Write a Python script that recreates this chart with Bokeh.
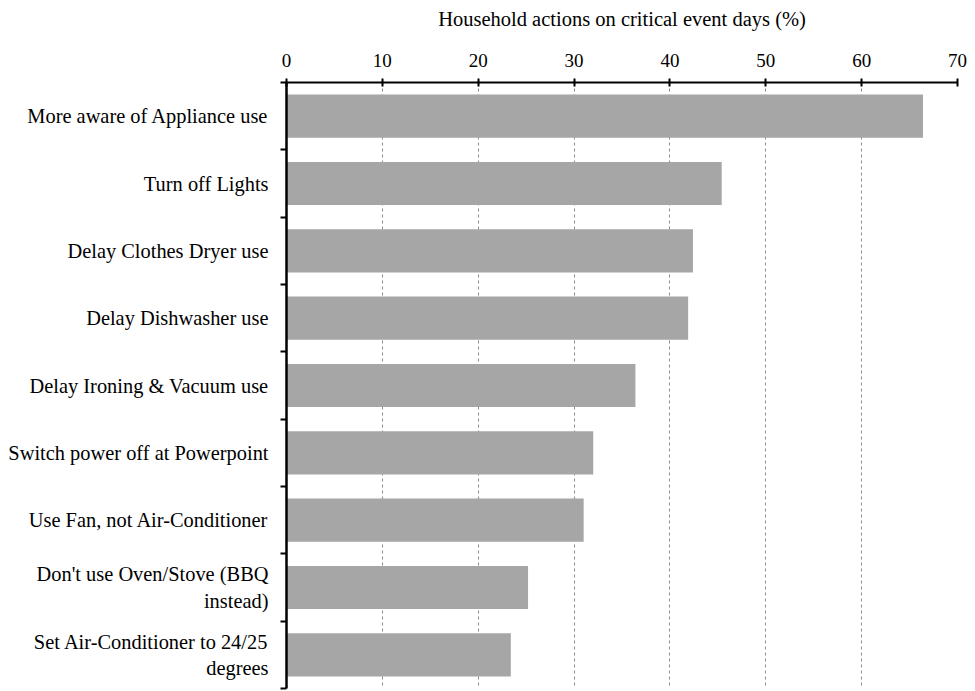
from bokeh.plotting import figure
from bokeh.models import Range1d, FixedTicker
from bokeh.embed import file_html
from bokeh.resources import INLINE

categories = [
    "More aware of Appliance use",
    "Turn off Lights",
    "Delay Clothes Dryer use",
    "Delay Dishwasher use",
    "Delay Ironing & Vacuum use",
    "Switch power off at Powerpoint",
    "Use Fan, not Air-Conditioner",
    "Don't use Oven/Stove (BBQ\ninstead)",
    "Set Air-Conditioner to 24/25\ndegrees",
]
values = [66.4, 45.4, 42.4, 41.9, 36.4, 32.0, 31.0, 25.2, 23.4]
x_ticks = [0, 10, 20, 30, 40, 50, 60, 70]
x_title = "Household actions on critical event days (%)"

n = len(categories)
centers = [i + 0.5 for i in range(n)]
bounds = list(range(n + 1))

FONT = "Liberation Serif"

p = figure(width=975, height=691, x_range=Range1d(0, 70), y_range=Range1d(n, 0),
           x_axis_location="above", output_backend="svg", toolbar_location=None,
           min_border_left=286, min_border_top=82, min_border_right=18, min_border_bottom=3)
p.outline_line_color = None
p.background_fill_color = "white"

p.hbar(y=centers, left=0, right=values, height=0.64, fill_color="#a6a6a6", line_color=None)

# x axis (top)
xa = p.xaxis[0]
xa.ticker = FixedTicker(ticks=x_ticks)
xa.axis_label = x_title
xa.axis_label_text_font = FONT
xa.axis_label_text_font_size = "20.5px"
xa.axis_label_text_font_style = "normal"
xa.axis_label_text_color = "black"
xa.axis_label_standoff = 21
xa.major_label_text_font = FONT
xa.major_label_text_font_size = "19px"
xa.major_label_text_color = "black"
xa.major_label_standoff = 12
xa.axis_line_width = 2
xa.axis_line_color = "black"
xa.major_tick_in = 4
xa.major_tick_out = 4
xa.major_tick_line_width = 2
xa.major_tick_line_color = "black"
xa.minor_tick_line_color = None

# y axis (left)
ya = p.yaxis[0]
ya.ticker = FixedTicker(ticks=centers, minor_ticks=bounds)
ya.major_label_overrides = {c: lab for c, lab in zip(centers, categories)}
ya.major_label_text_font = FONT
ya.major_label_text_font_size = "20.4px"
ya.major_label_text_color = "black"
ya.major_label_text_align = "center"
ya.major_label_standoff = 12
ya.major_tick_in = 0
ya.major_tick_out = 0
ya.major_tick_line_color = None
ya.minor_tick_in = 0
ya.minor_tick_out = 6
ya.minor_tick_line_width = 2
ya.minor_tick_line_color = "black"
ya.axis_line_width = 2.5
ya.axis_line_color = "black"

p.ygrid.grid_line_color = None
p.xgrid.ticker = FixedTicker(ticks=x_ticks)
p.xgrid.grid_line_color = "#8c8c8c"
p.xgrid.grid_line_dash = "3 3"
p.xgrid.grid_line_width = 1

open("out.html", "w").write(file_html(p, INLINE))
